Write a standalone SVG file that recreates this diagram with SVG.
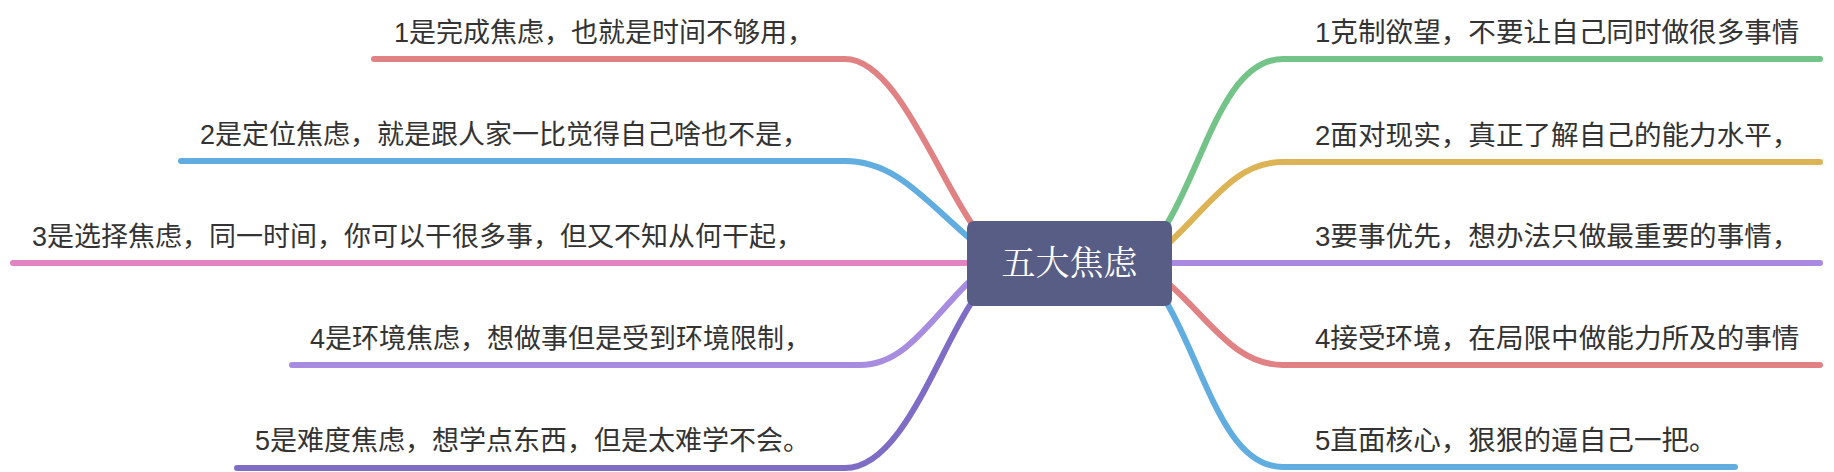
<svg xmlns="http://www.w3.org/2000/svg" width="1834" height="472" viewBox="0 0 1834 472">
<style>
.c{fill:none;stroke-width:6;stroke-linecap:round}
.t{font-family:"Liberation Sans","Noto Sans CJK SC",sans-serif;font-size:27px;fill:#333333}
.r{font-size:27.6px}
.ct{font-family:"Liberation Serif","Noto Serif CJK SC","Noto Sans CJK SC",serif;font-size:34px;fill:#ffffff}
</style>
<rect width="1834" height="472" fill="#ffffff"/>
<g id="connectors">
<path class="c" stroke="#e08283" d="M374 59 H845 C895 59 935 170 972 224"/>
<path class="c" stroke="#62ade0" d="M181 161 H845 C895 161 925 200 968 237"/>
<path class="c" stroke="#e384c2" d="M13 263 H968"/>
<path class="c" stroke="#a78ce0" d="M292 365 H860 C905 365 930 320 968 283"/>
<path class="c" stroke="#7f6cc4" d="M237 468 H845 C900 468 935 360 970 305"/>
<path class="c" stroke="#74c48a" d="M1168 222 C1205 160 1225 59 1283 59 H1820"/>
<path class="c" stroke="#ddb455" d="M1170 242 C1210 205 1235 162 1283 162 H1820"/>
<path class="c" stroke="#a98ae0" d="M1172 263 H1820"/>
<path class="c" stroke="#e08283" d="M1170 285 C1210 320 1235 365 1283 365 H1820"/>
<path class="c" stroke="#62ade0" d="M1168 305 C1205 370 1225 467 1283 467 H1735"/>
</g>
<g id="center">
<rect x="967" y="221" width="205" height="85" rx="7" fill="#575d84"/>
<text class="ct" x="1069.5" y="275" text-anchor="middle">五大焦虑</text>
</g>
<g id="l1"><text class="t" x="394" y="42">1是完成焦虑，也就是时间不够用，</text></g>
<g id="l2"><text class="t" x="200" y="144">2是定位焦虑，就是跟人家一比觉得自己啥也不是，</text></g>
<g id="l3"><text class="t" x="32" y="246">3是选择焦虑，同一时间，你可以干很多事，但又不知从何干起，</text></g>
<g id="l4"><text class="t" x="310" y="348">4是环境焦虑，想做事但是受到环境限制，</text></g>
<g id="l5"><text class="t" x="255" y="450">5是难度焦虑，想学点东西，但是太难学不会。</text></g>
<g id="r1"><text class="t r" x="1315" y="42">1克制欲望，不要让自己同时做很多事情</text></g>
<g id="r2"><text class="t r" x="1315" y="145">2面对现实，真正了解自己的能力水平，</text></g>
<g id="r3"><text class="t r" x="1315" y="246">3要事优先，想办法只做最重要的事情，</text></g>
<g id="r4"><text class="t r" x="1315" y="348">4接受环境，在局限中做能力所及的事情</text></g>
<g id="r5"><text class="t r" x="1315" y="450">5直面核心，狠狠的逼自己一把。</text></g>
</svg>
